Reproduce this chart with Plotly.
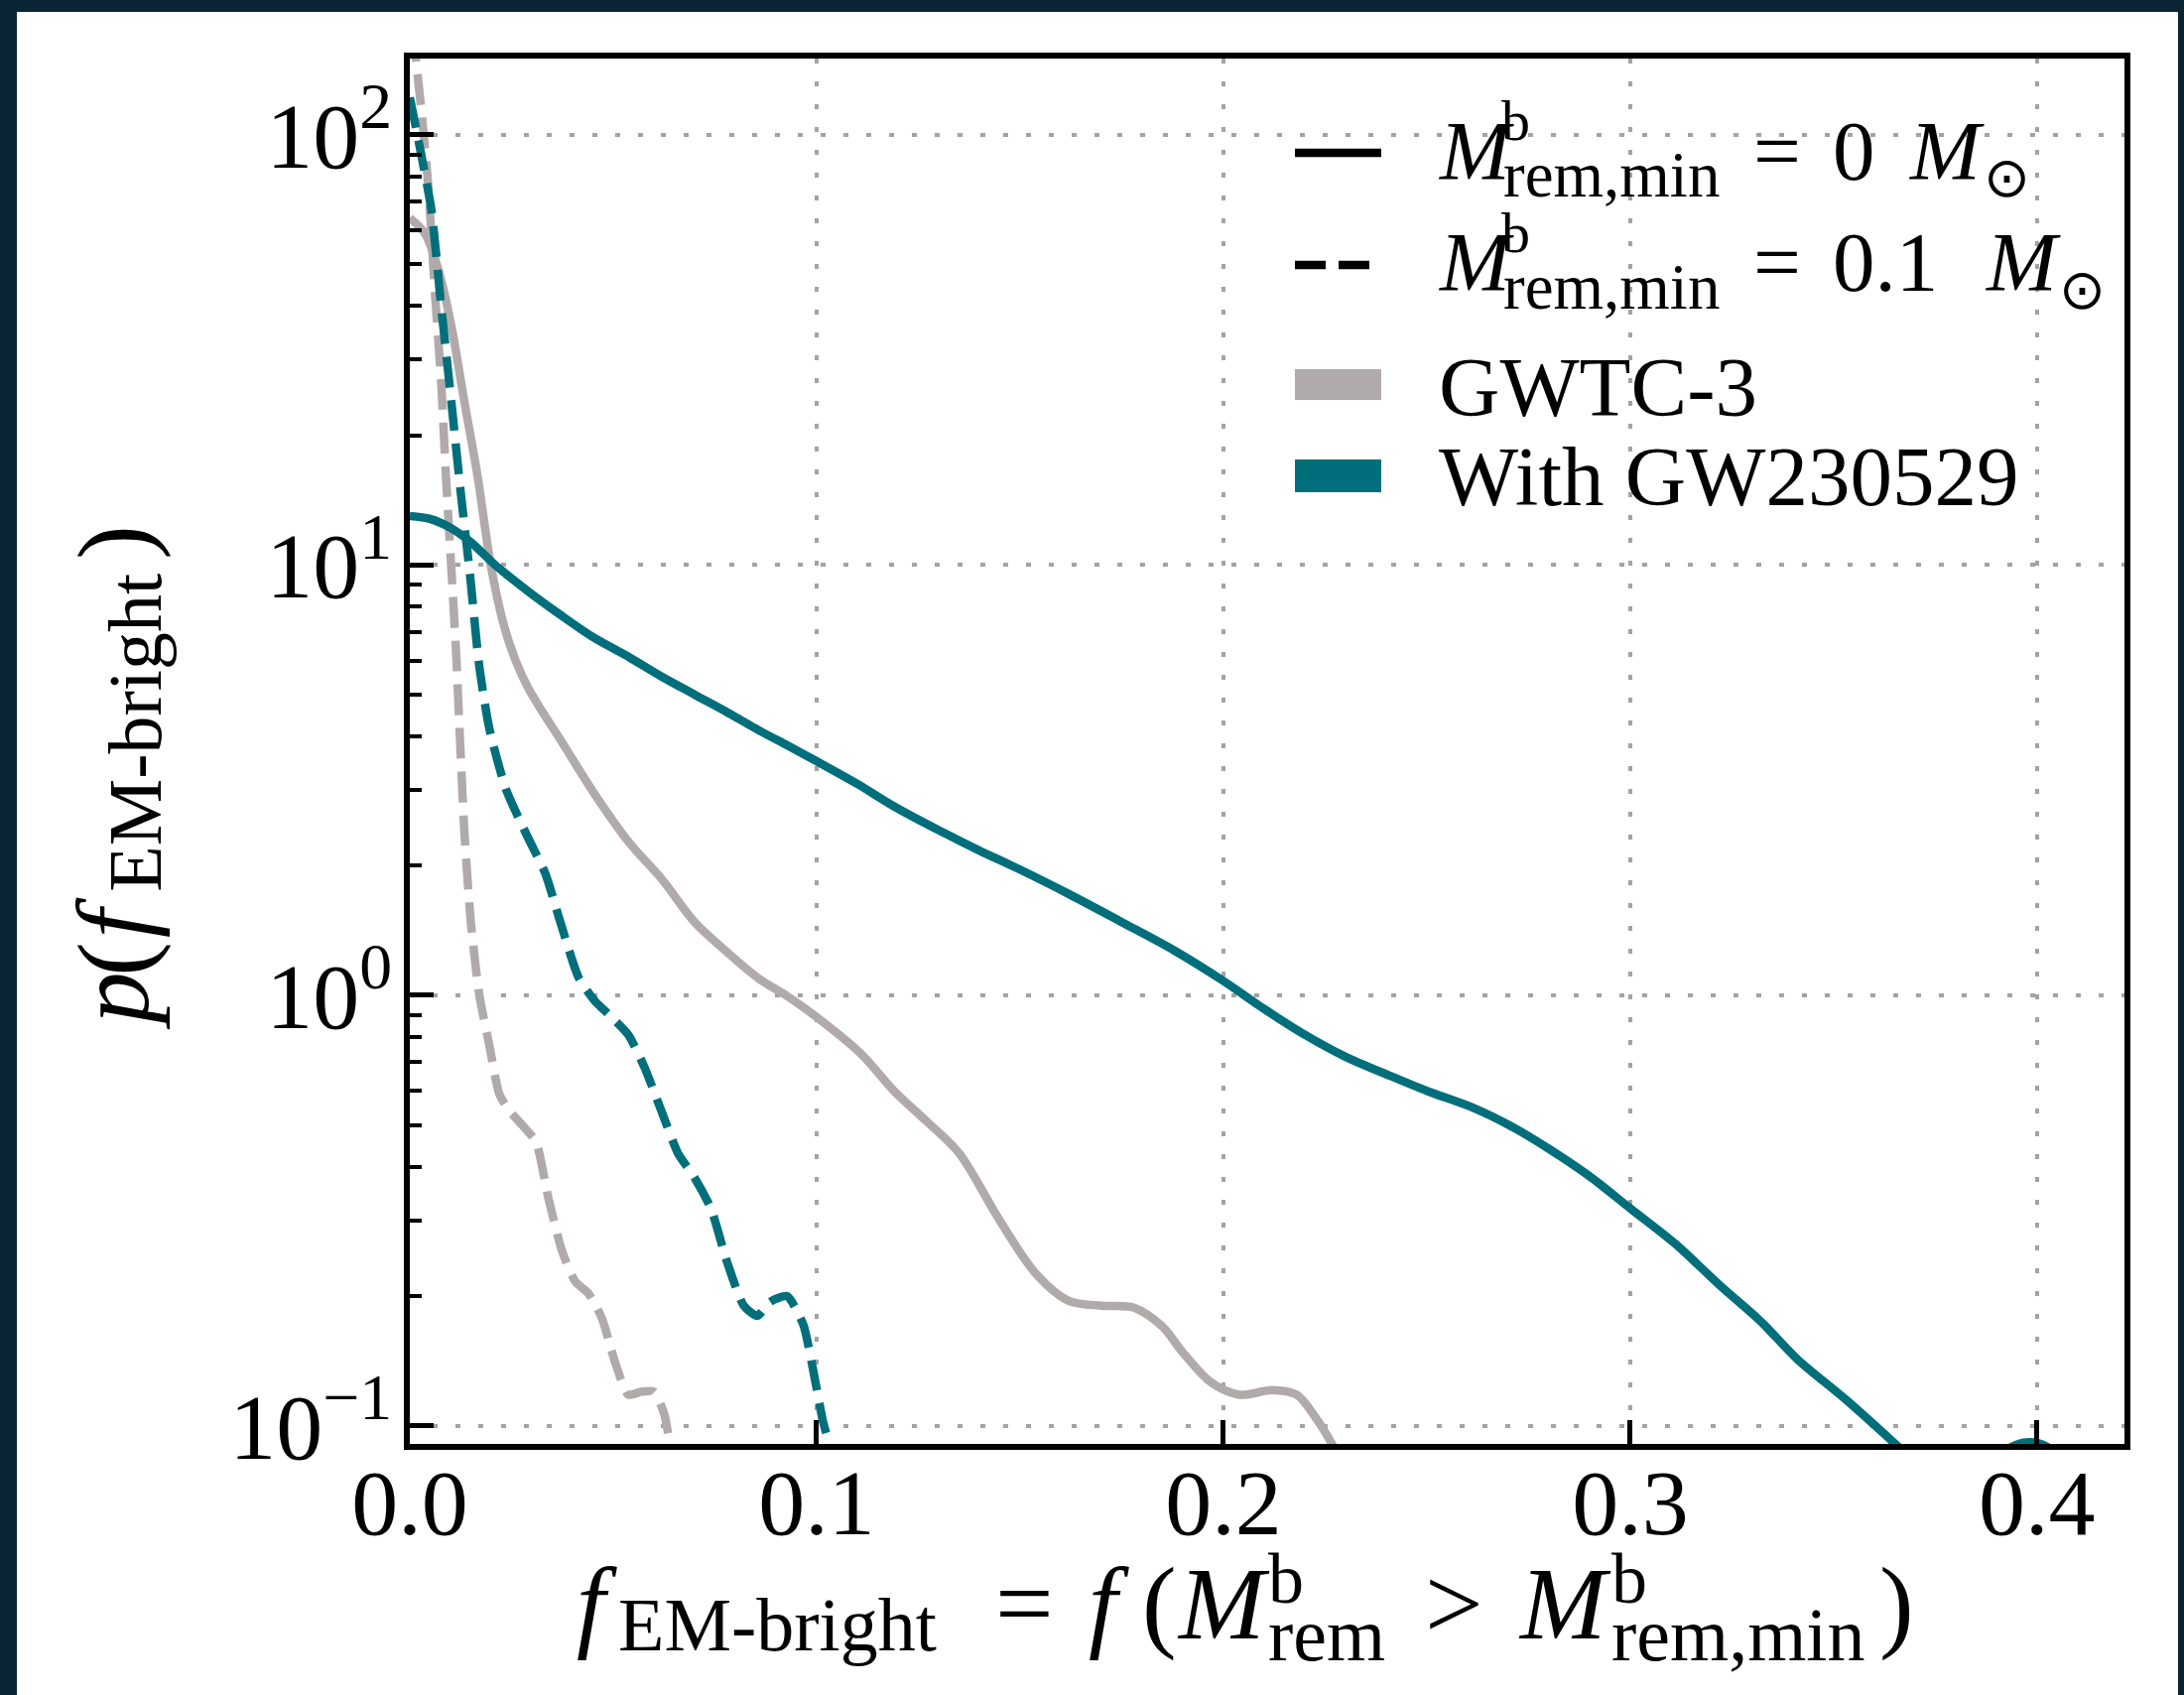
import numpy as np
import plotly.graph_objects as go

# ---------------- data ----------------
x_gwtc3_m0 = [0, 0.0037, 0.0069, 0.0102, 0.0134, 0.0167, 0.0199, 0.0232, 0.026, 0.029, 0.033,
              0.037, 0.0455, 0.054, 0.062, 0.07, 0.078, 0.086, 0.0925, 0.1, 0.111, 0.119, 0.127,
              0.135, 0.145, 0.154, 0.162, 0.17, 0.178, 0.185, 0.19, 0.197, 0.204, 0.212, 0.218,
              0.2225, 0.2266, 0.231]
p_gwtc3_m0 = [64, 59, 49, 36, 24, 16, 10, 7.2, 6.0, 5.2, 4.5,
              3.93, 2.93, 2.26, 1.86, 1.48, 1.26, 1.09, 1.0, 0.89, 0.73, 0.60, 0.51,
              0.43, 0.30, 0.225, 0.195, 0.19, 0.188, 0.17, 0.148, 0.126, 0.118, 0.121, 0.118,
              0.105, 0.091, 0.075]

x_gwtc3_m01 = [0, 0.0016, 0.0028, 0.0045, 0.0061, 0.0077, 0.0089, 0.0099, 0.0106, 0.0114, 0.0122,
               0.0134, 0.015, 0.0171, 0.0195, 0.022, 0.0244, 0.0276, 0.031, 0.034, 0.0374, 0.0407,
               0.0439, 0.0472, 0.0504, 0.0537, 0.057, 0.060, 0.0626, 0.064, 0.066]
p_gwtc3_m01 = [220, 147, 115, 77, 44, 26.7, 16, 11, 8.5, 6.2, 4.2,
               2.41, 1.48, 1.0, 0.77, 0.59, 0.54, 0.50, 0.457, 0.34, 0.255, 0.216,
               0.203, 0.178, 0.141, 0.118, 0.12, 0.12, 0.106, 0.09, 0.075]

x_gw230529_m0 = [0, 0.005, 0.01, 0.015, 0.021, 0.029, 0.037, 0.045, 0.054, 0.062, 0.07, 0.078,
                 0.086, 0.093, 0.1, 0.11, 0.119, 0.13, 0.14, 0.15, 0.162, 0.175, 0.188, 0.2,
                 0.21, 0.22, 0.23, 0.241, 0.25, 0.262, 0.271, 0.28, 0.29, 0.3, 0.311, 0.322,
                 0.332, 0.341, 0.353, 0.365, 0.374, 0.382, 0.389, 0.394, 0.398,
                 0.402, 0.407, 0.414]
p_gw230529_m0 = [13.0, 12.8, 12.2, 11.3, 10.0, 8.7, 7.66, 6.8, 6.1, 5.5, 5.0, 4.55,
                 4.12, 3.8, 3.5, 3.1, 2.75, 2.42, 2.17, 1.96, 1.72, 1.48, 1.27, 1.08,
                 0.93, 0.81, 0.72, 0.65, 0.6, 0.545, 0.495, 0.44, 0.38, 0.32, 0.265, 0.212,
                 0.175, 0.143, 0.115, 0.091, 0.076, 0.072, 0.082, 0.0895, 0.0915,
                 0.0898, 0.082, 0.065]

x_gw230529_m01 = [0, 0.0028, 0.0053, 0.0077, 0.0102, 0.0126, 0.0148, 0.017, 0.0195, 0.0236, 0.029,
                  0.0333, 0.037, 0.0415, 0.0455, 0.0496, 0.0537, 0.0577, 0.0618, 0.0659, 0.07,
                  0.074, 0.078, 0.0821, 0.0854, 0.0886, 0.0927, 0.0967, 0.099, 0.1016, 0.1035, 0.106]
p_gw230529_m01 = [122, 90, 67, 40, 24, 14.5, 9.5, 5.9, 4.19, 3.02, 2.33,
                  1.92, 1.48, 1.10, 0.97, 0.89, 0.81, 0.68, 0.54, 0.43, 0.377,
                  0.32, 0.24, 0.19, 0.18, 0.194, 0.2, 0.172, 0.137, 0.102, 0.088, 0.07]

x_ticks = [0.0, 0.1, 0.2, 0.3, 0.4]
x_tick_labels = ["0.0", "0.1", "0.2", "0.3", "0.4"]
y_ticks = [0.1, 1, 10, 100]
y_tick_labels = ["10<sup>\u22121</sup>", "10<sup>0</sup>", "10<sup>1</sup>", "10<sup>2</sup>"]

legend_values = ["0", "0.1"]
legend_groups = ["GWTC-3", "With GW230529"]

# ---------------- styling / layout constants ----------------
W, H = 2201, 1708
L, R, T, B = 413, 2141, 59, 1455
PW, PH = R - L, B - T
FONT = "Liberation Serif"
TEAL = "#006f7b"
GRAY = "#b1aaab"
DARK = "#0b2433"
LW = 8.5
DASH = "31px,13px"
ASC = 0.891


def px(x):
    return (x - L) / PW


def py(y):
    return (B - y) / PH


fig = go.Figure()
series = [
    (x_gwtc3_m0, p_gwtc3_m0, GRAY, "solid", 0.9),
    (x_gwtc3_m01, p_gwtc3_m01, GRAY, DASH, 0.6),
    (x_gw230529_m0, p_gw230529_m0, TEAL, "solid", 0.9),
    (x_gw230529_m01, p_gw230529_m01, TEAL, DASH, 0.6),
]
for xs, ys, col, dash, sm in series:
    fig.add_trace(go.Scatter(x=xs, y=ys, mode="lines", showlegend=False, hoverinfo="skip",
                             line=dict(color=col, width=LW, dash=dash, shape="spline", smoothing=sm)))

axis_common = dict(
    ticks="inside", ticklen=24, tickwidth=5, tickcolor="black",
    showline=True, linewidth=6, linecolor="black", mirror=True,
    showgrid=True, gridcolor="#a3a3a3", gridwidth=3.5, griddash="5px,18px",
    zeroline=False, tickfont=dict(family=FONT, size=94, color="black"),
)
fig.update_xaxes(range=[0, 0.4215], tickmode="array", tickvals=x_ticks, ticktext=x_tick_labels,
                 **axis_common)
fig.update_yaxes(type="log", range=[np.log10(0.0907), np.log10(150.3)], tickmode="array",
                 tickvals=y_ticks, ticktext=y_tick_labels,
                 minor=dict(ticks="inside", ticklen=12, tickwidth=4, tickcolor="black",
                            dtick="D1", showgrid=False),
                 **axis_common)
try:
    fig.update_xaxes(ticklabelstandoff=-28)
    fig.update_yaxes(ticklabelstandoff=-7)
except Exception:
    pass

shapes = [
    # white card on dark slide background
    dict(type="rect", xref="paper", yref="paper", x0=px(17), x1=px(2195), y0=py(1760), y1=py(12),
         fillcolor="white", line=dict(width=0), layer="below"),
    # legend handles
    dict(type="line", xref="paper", yref="paper", x0=px(1305), x1=px(1392), y0=py(154), y1=py(154),
         line=dict(color="black", width=LW)),
    dict(type="line", xref="paper", yref="paper", x0=px(1305), x1=px(1392), y0=py(267), y1=py(267),
         line=dict(color="black", width=LW, dash=DASH)),
    dict(type="rect", xref="paper", yref="paper", x0=px(1305), x1=px(1392), y0=py(403), y1=py(372),
         fillcolor=GRAY, line=dict(width=0)),
    dict(type="rect", xref="paper", yref="paper", x0=px(1305), x1=px(1392), y0=py(496), y1=py(463),
         fillcolor=TEAL, line=dict(width=0)),
]

ann = []


def piece(x, base, s, size, angle=0):
    """Place a text piece: x = left edge (or baseline x when rotated), base = baseline y
    (or bottom start y when rotated)."""
    if angle == 0:
        ann.append(dict(xref="paper", yref="paper", x=px(x), y=py(base - ASC * size), text=s,
                        showarrow=False, xanchor="left", yanchor="top", borderpad=0,
                        font=dict(family=FONT, size=size, color="black")))
    else:
        ann.append(dict(xref="paper", yref="paper", x=px(x - ASC * size), y=py(base), text=s,
                        showarrow=False, xanchor="left", yanchor="bottom", borderpad=0,
                        textangle=-90, font=dict(family=FONT, size=size, color="black")))


# ---- legend text ----
LF, LB, LS, LSUN = 85, 58, 65, 56
rows = [
    dict(base=180, bb=140, sb=197, val=legend_values[0], mx=1923, sx=1998),
    dict(base=292, bb=253, sb=310, val=legend_values[1], mx=2000, sx=2074),
]
for r in rows:
    piece(1449, r["base"], "<i>M</i>", LF)
    piece(1512, r["bb"], "b", LB)
    piece(1514, r["sb"], "rem,min", LS)
    piece(1766, r["base"], "=", LF)
    piece(1846, r["base"], r["val"], LF)
    piece(r["mx"], r["base"], "<i>M</i>", LF)
    piece(r["sx"], r["sb"], "\u2299", LSUN)
piece(1449, 418, legend_groups[0], LF)
piece(1449, 508, legend_groups[1], LF)

# ---- x-axis title (pieces so that sub/superscripts stack) ----
TF, TS, TB = 104, 76, 72
xb = 1650
piece(580, xb, "<i>f</i>", TF)
piece(622, xb + 12, "EM-bright", TS)
piece(1002, xb, "=", TF)
piece(1096, xb, "<i>f</i>", TF)
piece(1150, xb, "(", TF)
piece(1185, xb, "<i>M</i>", TF)
piece(1277, xb - 36, "b", TB)
piece(1277, xb + 22, "rem", TS)
piece(1435, xb, "&gt;", TF)
piece(1529, xb, "<i>M</i>", TF)
piece(1623, xb - 36, "b", TB)
piece(1623, xb + 22, "rem,min", TS)
piece(1893, xb, ")", TF)

# ---- y-axis title (rotated pieces) ----
yb = 148
piece(yb, 1039, "<i>p</i>", TF, angle=-90)
piece(yb, 985, "(", TF, angle=-90)
piece(yb, 946, "<i>f</i>", TF, angle=-90)
piece(yb + 12, 900, "EM-bright", TS, angle=-90)
piece(yb, 565, ")", TF, angle=-90)

fig.update_layout(
    width=W, height=H,
    margin=dict(l=L, r=W - R, t=T, b=H - B, pad=0),
    paper_bgcolor=DARK, plot_bgcolor="white",
    shapes=shapes, annotations=ann, showlegend=False,
)

fig.write_html("out.html")
